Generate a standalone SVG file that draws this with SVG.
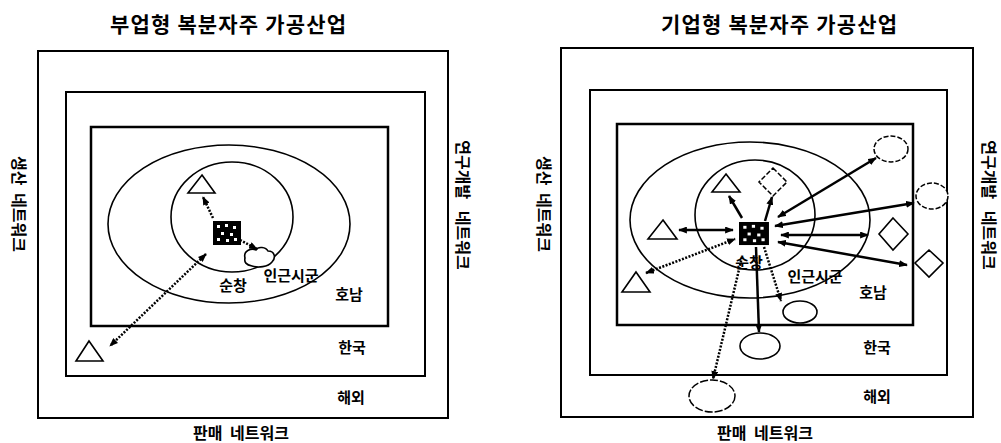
<svg xmlns="http://www.w3.org/2000/svg" width="1001" height="443" viewBox="0 0 1001 443">
<style>
text{font-family:"Noto Sans CJK KR","Noto Sans",sans-serif;fill:#000}
.title{font-size:21px;font-weight:bold}
.lbl{font-size:15px;font-weight:bold}
.net{font-size:16px;font-weight:bold;word-spacing:4px}
.netl{font-size:16px;font-weight:bold;word-spacing:8px}
.box{fill:none;stroke:#000;stroke-width:2}
.box2{fill:none;stroke:#000;stroke-width:2.5}
.ring{fill:none;stroke:#000;stroke-width:1.6}
.shape{fill:#fff;stroke:#000;stroke-width:1.6}
.dshape{fill:#fff;stroke:#000;stroke-width:1.5;stroke-dasharray:5 2}
.arr{fill:none;stroke:#000;stroke-width:2.5;marker-end:url(#ah)}
.arr2{fill:none;stroke:#000;stroke-width:2.5;marker-end:url(#ah);marker-start:url(#ah)}
.dot2{fill:none;stroke:#000;stroke-width:2.5;stroke-dasharray:2 1.5;marker-end:url(#ah);marker-start:url(#ah)}
.dot1{fill:none;stroke:#000;stroke-width:2.5;stroke-dasharray:2 1.5;marker-end:url(#ah)}
</style>
<defs>
<marker id="ah" viewBox="0 0 10 8" refX="9" refY="4" markerWidth="9" markerHeight="7" markerUnits="userSpaceOnUse" orient="auto-start-reverse">
<path d="M0,0 L10,4 L0,8 z" fill="#000"/>
</marker>
<g id="chk">
<rect x="0" y="0" width="28" height="24" fill="#000"/>
<rect x="4" y="4" width="3" height="3" fill="#fff"/>
<rect x="12" y="3" width="3" height="3" fill="#fff"/>
<rect x="20" y="5" width="3" height="3" fill="#fff"/>
<rect x="8" y="11" width="3" height="3" fill="#fff"/>
<rect x="17" y="12" width="3" height="3" fill="#fff"/>
<rect x="4" y="17" width="3" height="3" fill="#fff"/>
<rect x="13" y="18" width="3" height="3" fill="#fff"/>
<rect x="21" y="17" width="3" height="3" fill="#fff"/>
</g>
</defs>

<!-- LEFT DIAGRAM -->
<g id="left-frame">
<text class="title" x="228" y="32" text-anchor="middle" textLength="236" lengthAdjust="spacing">부업형 복분자주 가공산업</text>
<rect class="box" x="38" y="51" width="410" height="367"/>
<rect class="box" x="66" y="92" width="359" height="284"/>
<rect class="box2" x="91" y="127" width="297" height="199"/>
<ellipse class="ring" cx="229" cy="224" rx="121" ry="79"/>
<ellipse class="ring" cx="232" cy="217" rx="61" ry="55"/>
</g>
<g id="left-labels">
<text class="lbl" x="233" y="291" text-anchor="middle">순창</text>
<text class="lbl" x="291" y="281" text-anchor="middle">인근시군</text>
<text class="lbl" x="349" y="300" text-anchor="middle">호남</text>
<text class="lbl" x="352" y="353" text-anchor="middle">한국</text>
<text class="lbl" x="351" y="403" text-anchor="middle">해외</text>
<text class="net" x="241" y="439" text-anchor="middle">판매 네트워크</text>
<text class="net" transform="translate(20,204) rotate(90)" text-anchor="middle" dominant-baseline="central">생산 네트워크</text>
</g>
<g id="left-right-label">
<text class="netl" transform="translate(464,205) rotate(90)" text-anchor="middle" dominant-baseline="central">연구개발 네트워크</text>
</g>
<g id="left-hub"><use href="#chk" x="213" y="221"/></g>
<g id="left-tri-top"><polygon class="shape" points="202,175 215,193 188,193"/></g>
<g id="left-tri-far"><polygon class="shape" points="89,341 103,361 76,361"/></g>
<g id="left-blob"><path class="shape" d="M245,258 C243,250 252,248 256,250 C258,246 266,247 268,251 C275,251 276,258 272,262 C268,267 258,268 252,266 C246,265 244,262 245,258 z"/></g>
<g id="left-connectors">
<line class="dot1" x1="213" y1="218" x2="203" y2="197"/>
<line class="dot1" x1="240" y1="240" x2="257" y2="249"/>
<line class="dot2" x1="206" y1="254" x2="110" y2="346"/>
</g>

<!-- RIGHT DIAGRAM -->
<g id="right-frame">
<text class="title" x="779" y="32" text-anchor="middle" textLength="236" lengthAdjust="spacing">기업형 복분자주 가공산업</text>
<rect class="box" x="561" y="48" width="412" height="369"/>
<rect class="box" x="590" y="90" width="357" height="285"/>
<rect class="box2" x="617" y="124" width="296" height="201"/>
<ellipse class="ring" cx="750" cy="220" rx="120" ry="78"/>
<ellipse class="ring" cx="755" cy="215" rx="60" ry="55"/>
</g>
<g id="right-labels">
<text class="lbl" x="749" y="268" text-anchor="middle">순창</text>
<text class="lbl" x="815" y="282" text-anchor="middle">인근시군</text>
<text class="lbl" x="873" y="298" text-anchor="middle">호남</text>
<text class="lbl" x="877" y="353" text-anchor="middle">한국</text>
<text class="lbl" x="877" y="402" text-anchor="middle">해외</text>
<text class="net" x="765" y="439" text-anchor="middle">판매 네트워크</text>
<text class="net" transform="translate(545,204) rotate(90)" text-anchor="middle" dominant-baseline="central">생산 네트워크</text>
<text class="netl" transform="translate(990,205) rotate(90)" text-anchor="middle" dominant-baseline="central">연구개발 네트워크</text>
</g>
<g id="right-hub"><use href="#chk" x="739" y="222" transform="translate(739,222) scale(1.07,0.96) translate(-739,-222)"/></g>
<g id="right-tri-top"><polygon class="shape" points="726,174 740,192 712,192"/></g>
<g id="right-diamond-top"><polygon class="dshape" points="773,168 787,182 773,196 759,182"/></g>
<g id="right-tri-left"><polygon class="shape" points="663,220 677,239 648,239"/></g>
<g id="right-tri-far"><polygon class="shape" points="636,272 650,292 622,292"/></g>
<g id="right-ell-tr"><ellipse class="dshape" cx="891" cy="149" rx="17" ry="13"/></g>
<g id="right-ell-r"><ellipse class="dshape" cx="932" cy="196" rx="16" ry="13"/></g>
<g id="right-diamond-1"><polygon class="shape" points="893,218 908,234 893,250 879,234"/></g>
<g id="right-diamond-2"><polygon class="shape" points="929,250 943,263 929,277 915,263"/></g>
<g id="right-ell-a"><ellipse class="shape" cx="800" cy="312" rx="17" ry="11"/></g>
<g id="right-ell-b"><ellipse class="shape" cx="760" cy="346" rx="20" ry="13"/></g>
<g id="right-ell-c"><ellipse class="dshape" cx="712" cy="396" rx="23" ry="16" style="stroke-dasharray:8 2"/></g>
<g id="right-connectors">
<line class="arr" x1="742" y1="218" x2="729" y2="196"/>
<line class="arr" x1="765" y1="221" x2="772" y2="197"/>
<line class="arr2" x1="679" y1="230" x2="733" y2="230"/>
<line class="dot2" x1="646" y1="273" x2="735" y2="239"/>
<line class="arr2" x1="778" y1="217" x2="876" y2="158"/>
<line class="arr2" x1="775" y1="226" x2="914" y2="203"/>
<line class="arr2" x1="781" y1="235" x2="868" y2="235"/>
<line class="arr2" x1="778" y1="242" x2="907" y2="265"/>
<line class="arr" x1="756" y1="247" x2="759" y2="332"/>
<line class="dot1" x1="764" y1="247" x2="781" y2="301"/>
<line class="dot1" x1="742" y1="257" x2="713" y2="379"/>
</g>
</svg>
